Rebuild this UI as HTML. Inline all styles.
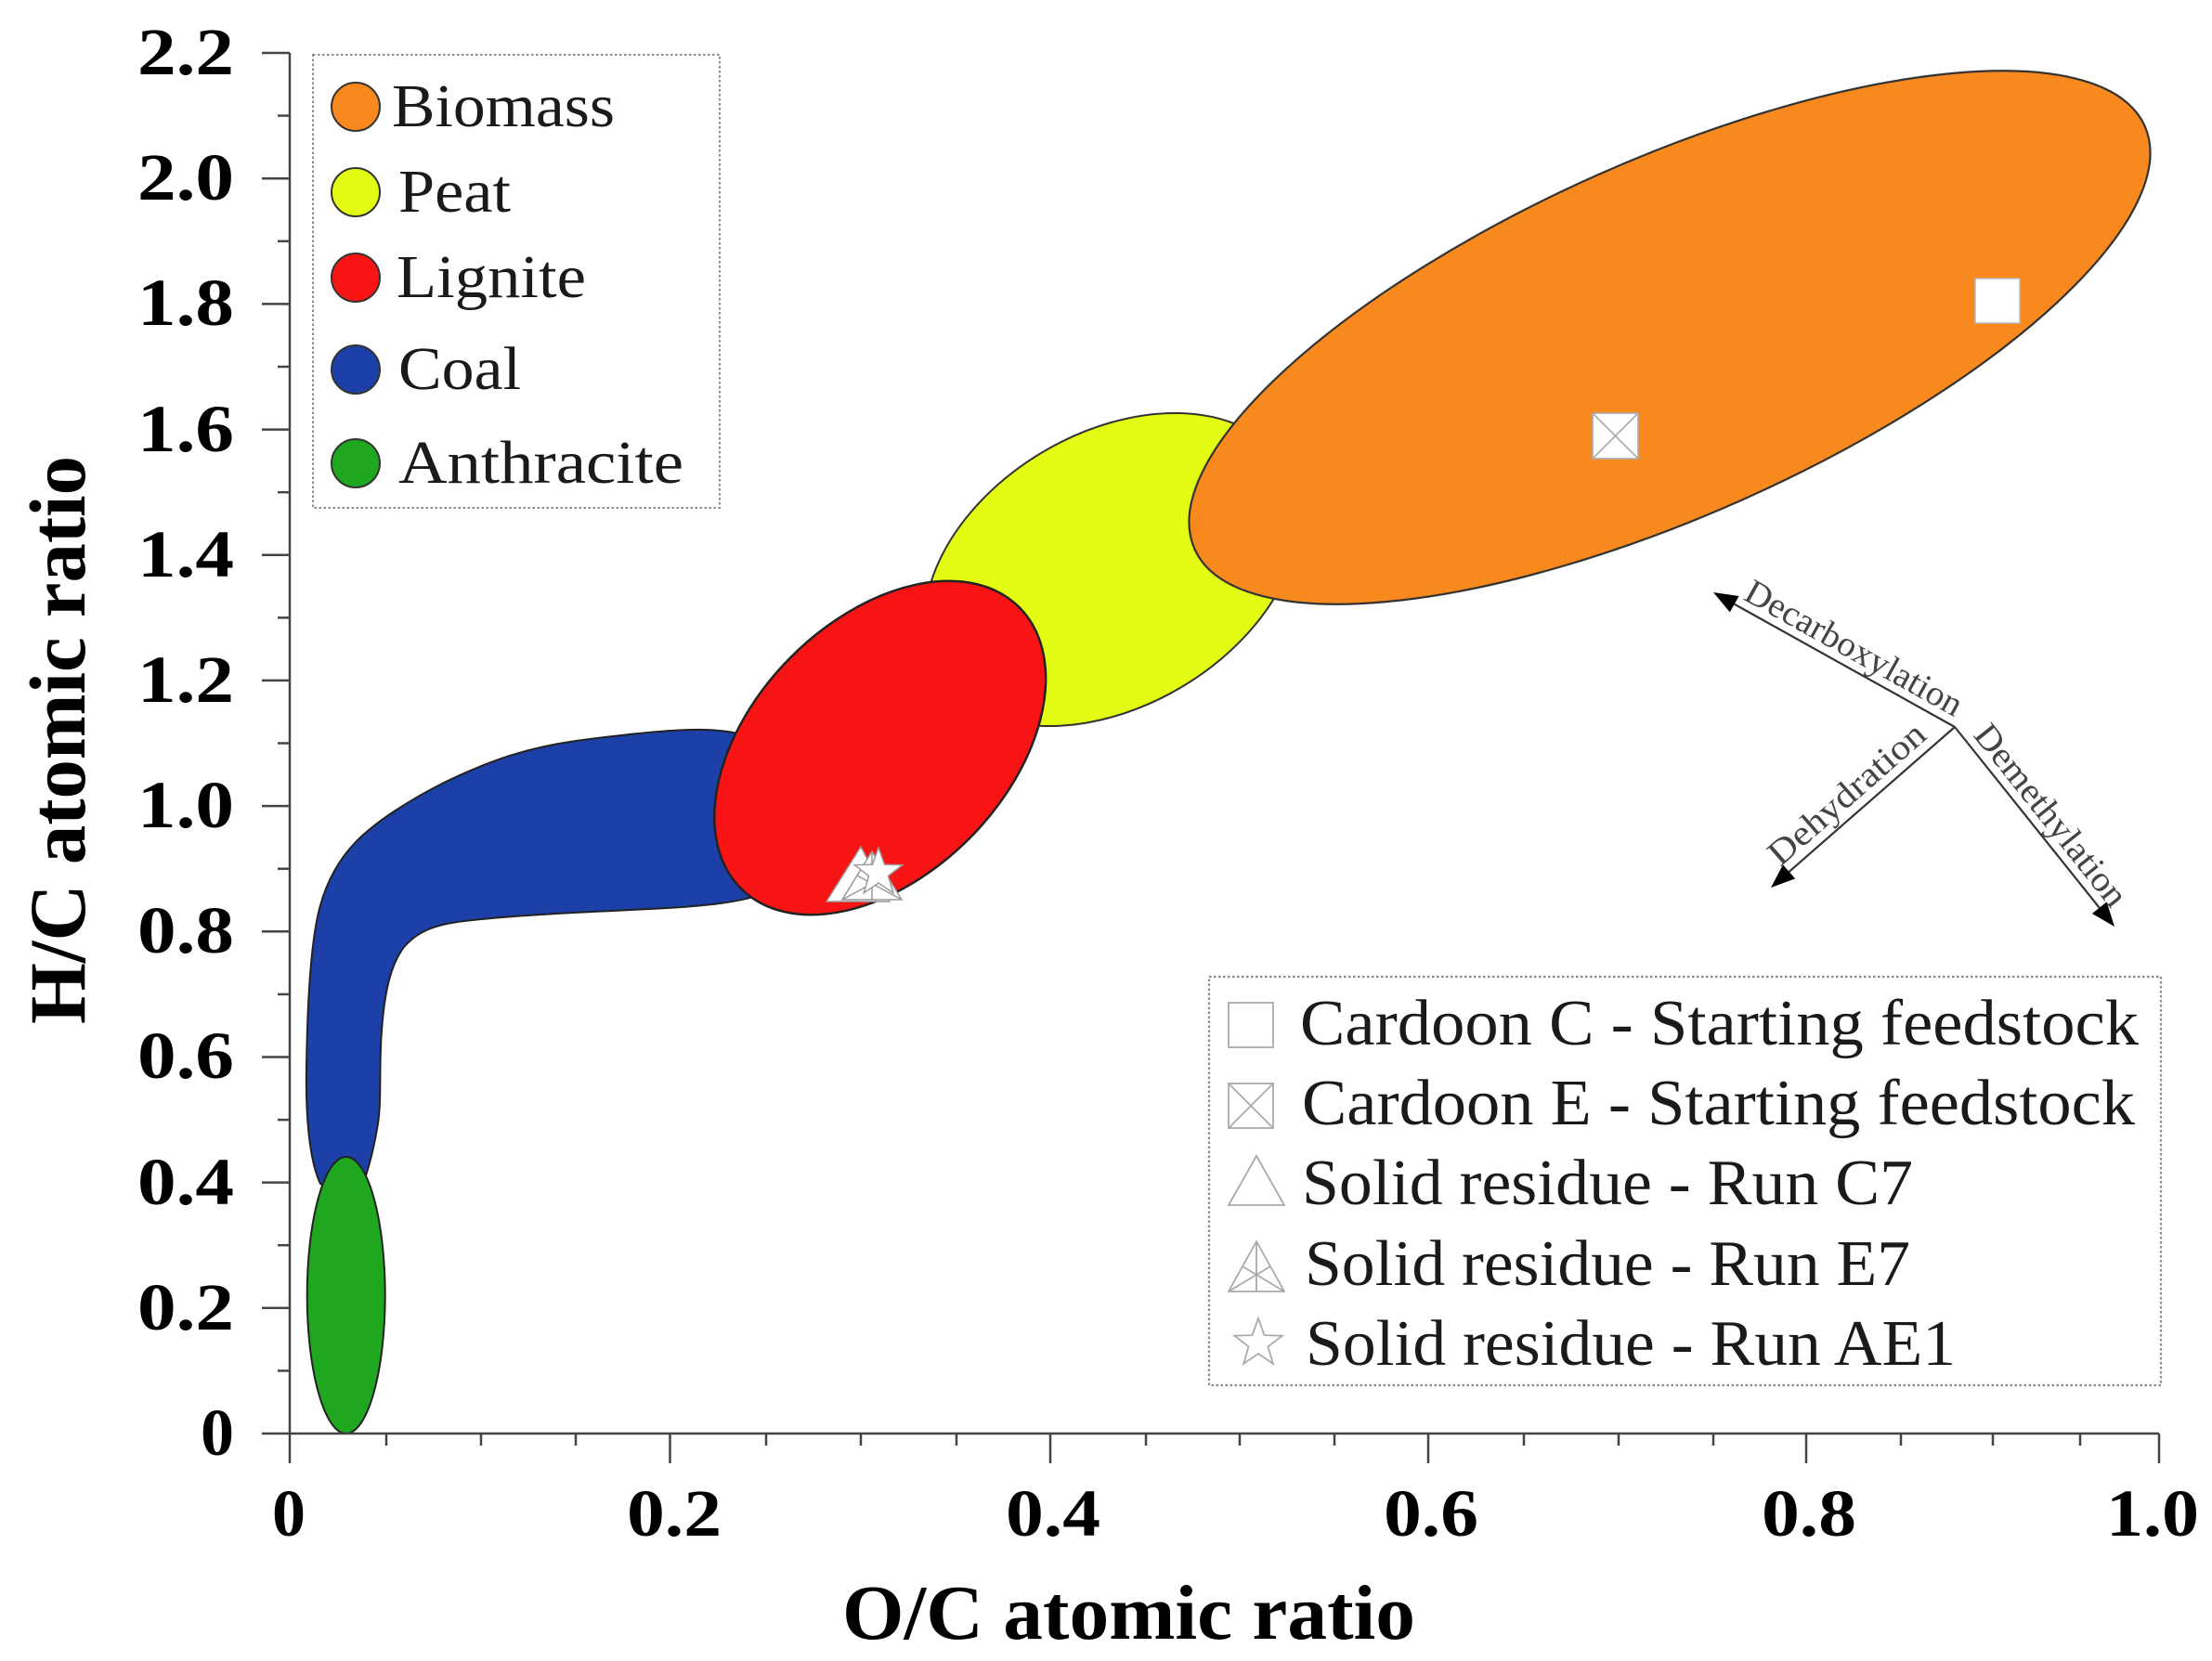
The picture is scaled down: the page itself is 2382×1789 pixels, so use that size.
<!DOCTYPE html>
<html>
<head>
<meta charset="utf-8">
<style>
html,body{margin:0;padding:0;background:#fff;overflow:hidden;}
svg{display:block;}
</style>
</head>
<body>
<svg xmlns="http://www.w3.org/2000/svg" width="2382" height="1789" viewBox="0 0 2382 1789">
<rect x="0" y="0" width="2382" height="1789" fill="#ffffff"/>

<!-- Coal (blue) -->
<path d="M 345,1275 C 333,1250 329,1200 330,1150 C 331,1080 335,1010 345,975 C 352,950 365,925 385,905 C 405,885 440,862 480,842 C 530,818 570,805 620,798 C 680,790 730,785 760,786 C 790,787 815,793 830,805 L 830,960 C 800,972 760,976 700,979 C 640,982 560,985 500,992 C 465,996 448,1005 435,1020 C 420,1040 414,1070 411,1110 C 408,1150 411,1185 407,1210 C 403,1235 398,1255 392,1272 C 375,1285 360,1285 345,1275 Z" fill="#1c40a8" stroke="#222" stroke-width="2"/>

<!-- Anthracite (green) -->
<ellipse cx="372.7" cy="1395" rx="42" ry="149" fill="#1fa81f" stroke="#222" stroke-width="2"/>

<!-- Peat (yellow) -->
<ellipse cx="1197.5" cy="613.5" rx="218" ry="147" transform="rotate(-30.8 1197.5 613.5)" fill="#e3fc14" stroke="#333" stroke-width="2"/>

<!-- Biomass (orange) -->
<ellipse cx="1798" cy="363.5" rx="560" ry="191.5" transform="rotate(-24 1798 363.5)" fill="#f8891e" stroke="#333" stroke-width="2.2"/>

<!-- Lignite (red) -->
<ellipse cx="947.7" cy="805.5" rx="213" ry="137" transform="rotate(-45.5 947.7 805.5)" fill="#f81414" stroke="#222" stroke-width="2.5"/>

<!-- Data markers -->
<rect x="2127" y="300" width="48" height="48" fill="#ffffff" stroke="#bbbbbb" stroke-width="1.5"/>
<g stroke="#aaaaaa" stroke-width="1.6" fill="#ffffff">
  <rect x="1715" y="445" width="49" height="49"/>
  <line x1="1715" y1="445" x2="1764" y2="494"/>
  <line x1="1764" y1="445" x2="1715" y2="494"/>
</g>
<g stroke="#9a9a9a" stroke-width="1.5" fill="#ffffff">
  <polygon points="927,912 890,971 958,971"/>
  <polygon points="939,917 907,969 971,969"/>
  <line x1="939" y1="917" x2="939" y2="969"/>
  <line x1="907" y1="969" x2="955" y2="943"/>
  <line x1="971" y1="969" x2="923" y2="943"/>
  <polygon transform="translate(946,940)" points="0,-27 6.47,-8.9 25.68,-8.34 10.46,3.4 15.88,21.84 0,11 -15.88,21.84 -10.46,3.4 -25.68,-8.34 -6.47,-8.9"/>
</g>

<!-- Axes -->
<g stroke="#444" stroke-width="2.5" fill="none">
  <line x1="312" y1="57" x2="312" y2="1576"/>
  <line x1="282" y1="1544" x2="2325" y2="1544"/>
  <!-- y major ticks -->
  <line x1="282" y1="1408.8" x2="312" y2="1408.8"/>
  <line x1="282" y1="1273.6" x2="312" y2="1273.6"/>
  <line x1="282" y1="1138.5" x2="312" y2="1138.5"/>
  <line x1="282" y1="1003.3" x2="312" y2="1003.3"/>
  <line x1="282" y1="868.1" x2="312" y2="868.1"/>
  <line x1="282" y1="732.9" x2="312" y2="732.9"/>
  <line x1="282" y1="597.7" x2="312" y2="597.7"/>
  <line x1="282" y1="462.6" x2="312" y2="462.6"/>
  <line x1="282" y1="327.4" x2="312" y2="327.4"/>
  <line x1="282" y1="192.2" x2="312" y2="192.2"/>
  <line x1="282" y1="57" x2="312" y2="57"/>
  <!-- y minor ticks -->
  <line x1="299" y1="1476.4" x2="312" y2="1476.4"/>
  <line x1="299" y1="1341.2" x2="312" y2="1341.2"/>
  <line x1="299" y1="1206.1" x2="312" y2="1206.1"/>
  <line x1="299" y1="1070.9" x2="312" y2="1070.9"/>
  <line x1="299" y1="935.7" x2="312" y2="935.7"/>
  <line x1="299" y1="800.5" x2="312" y2="800.5"/>
  <line x1="299" y1="665.3" x2="312" y2="665.3"/>
  <line x1="299" y1="530.2" x2="312" y2="530.2"/>
  <line x1="299" y1="395" x2="312" y2="395"/>
  <line x1="299" y1="259.8" x2="312" y2="259.8"/>
  <line x1="299" y1="124.6" x2="312" y2="124.6"/>
  <!-- x major ticks -->
  <line x1="721.5" y1="1544" x2="721.5" y2="1576"/>
  <line x1="1131" y1="1544" x2="1131" y2="1576"/>
  <line x1="1538" y1="1544" x2="1538" y2="1576"/>
  <line x1="1945" y1="1544" x2="1945" y2="1576"/>
  <line x1="2325" y1="1544" x2="2325" y2="1576"/>
  <!-- x minor ticks -->
  <line x1="416" y1="1544" x2="416" y2="1557"/>
  <line x1="518" y1="1544" x2="518" y2="1557"/>
  <line x1="620" y1="1544" x2="620" y2="1557"/>
  <line x1="825" y1="1544" x2="825" y2="1557"/>
  <line x1="927" y1="1544" x2="927" y2="1557"/>
  <line x1="1030" y1="1544" x2="1030" y2="1557"/>
  <line x1="1234" y1="1544" x2="1234" y2="1557"/>
  <line x1="1335" y1="1544" x2="1335" y2="1557"/>
  <line x1="1437" y1="1544" x2="1437" y2="1557"/>
  <line x1="1641" y1="1544" x2="1641" y2="1557"/>
  <line x1="1743" y1="1544" x2="1743" y2="1557"/>
  <line x1="1845" y1="1544" x2="1845" y2="1557"/>
  <line x1="2047" y1="1544" x2="2047" y2="1557"/>
  <line x1="2146" y1="1544" x2="2146" y2="1557"/>
  <line x1="2240" y1="1544" x2="2240" y2="1557"/>
</g>

<!-- Y tick labels -->
<g font-family="'Liberation Serif', serif" font-weight="bold" font-size="72" fill="#000" text-anchor="end">
  <text x="252" y="1567">0</text>
  <text x="252" y="1432" textLength="104" lengthAdjust="spacingAndGlyphs">0.2</text>
  <text x="252" y="1297" textLength="104" lengthAdjust="spacingAndGlyphs">0.4</text>
  <text x="252" y="1161" textLength="104" lengthAdjust="spacingAndGlyphs">0.6</text>
  <text x="252" y="1026" textLength="104" lengthAdjust="spacingAndGlyphs">0.8</text>
  <text x="252" y="891" textLength="104" lengthAdjust="spacingAndGlyphs">1.0</text>
  <text x="252" y="756" textLength="104" lengthAdjust="spacingAndGlyphs">1.2</text>
  <text x="252" y="621" textLength="104" lengthAdjust="spacingAndGlyphs">1.4</text>
  <text x="252" y="486" textLength="104" lengthAdjust="spacingAndGlyphs">1.6</text>
  <text x="252" y="350" textLength="104" lengthAdjust="spacingAndGlyphs">1.8</text>
  <text x="252" y="215" textLength="104" lengthAdjust="spacingAndGlyphs">2.0</text>
  <text x="252" y="80" textLength="104" lengthAdjust="spacingAndGlyphs">2.2</text>
</g>

<!-- X tick labels -->
<g font-family="'Liberation Serif', serif" font-weight="bold" font-size="72" fill="#000" text-anchor="middle">
  <text x="311" y="1654">0</text>
  <text x="726" y="1654" textLength="102" lengthAdjust="spacingAndGlyphs">0.2</text>
  <text x="1134" y="1654" textLength="102" lengthAdjust="spacingAndGlyphs">0.4</text>
  <text x="1541" y="1654" textLength="102" lengthAdjust="spacingAndGlyphs">0.6</text>
  <text x="1948" y="1654" textLength="102" lengthAdjust="spacingAndGlyphs">0.8</text>
  <text x="2318" y="1654" textLength="100" lengthAdjust="spacingAndGlyphs">1.0</text>
</g>

<!-- Axis titles -->
<text x="907" y="1765" font-family="'Liberation Serif', serif" font-weight="bold" font-size="84" fill="#000" textLength="617" lengthAdjust="spacingAndGlyphs">O/C atomic ratio</text>
<text transform="translate(91,797) rotate(-90)" x="0" y="0" text-anchor="middle" font-family="'Liberation Serif', serif" font-weight="bold" font-size="86" fill="#000" textLength="612" lengthAdjust="spacingAndGlyphs">H/C atomic ratio</text>

<!-- Legend 1 -->
<rect x="337" y="59" width="438" height="488" fill="none" stroke="#8a8a8a" stroke-width="2" stroke-dasharray="2.5 2.5"/>
<g stroke="#333" stroke-width="2">
  <circle cx="383" cy="115" r="26" fill="#f8891e"/>
  <circle cx="383" cy="207" r="26" fill="#e3fc14"/>
  <circle cx="383" cy="299" r="26" fill="#f81414"/>
  <circle cx="383" cy="398" r="26" fill="#1c40a8"/>
  <circle cx="383" cy="499" r="26" fill="#1fa81f"/>
</g>
<g font-family="'Liberation Serif', serif" font-size="66" fill="#1a1a1a">
  <text x="422" y="136" textLength="240" lengthAdjust="spacingAndGlyphs">Biomass</text>
  <text x="429" y="228" textLength="121" lengthAdjust="spacingAndGlyphs">Peat</text>
  <text x="427" y="320" textLength="204" lengthAdjust="spacingAndGlyphs">Lignite</text>
  <text x="429" y="419" textLength="132" lengthAdjust="spacingAndGlyphs">Coal</text>
  <text x="429" y="520" textLength="307" lengthAdjust="spacingAndGlyphs">Anthracite</text>
</g>

<!-- Reaction arrows -->
<g stroke="#333" stroke-width="2.2" fill="none">
  <line x1="2105" y1="783" x2="1867.7" y2="650.7"/>
  <line x1="2105" y1="783" x2="1926.6" y2="938.9"/>
  <line x1="2105" y1="783" x2="2260.7" y2="977.7"/>
</g>
<g fill="#000">
  <polygon points="1845,638 1872.6,642 1862.8,659.4"/>
  <polygon points="1907,956 1933.2,946.4 1920,931.4"/>
  <polygon points="2277,998 2268.6,971.4 2252.9,984"/>
</g>
<g font-family="'Liberation Serif', serif" font-size="38" fill="#444">
  <text transform="translate(1876,645) rotate(29.1)" x="0" y="0" textLength="262" lengthAdjust="spacingAndGlyphs">Decarboxylation</text>
  <text transform="translate(2124,792) rotate(51.4)" x="0" y="0" textLength="240" lengthAdjust="spacingAndGlyphs">Demethylation</text>
  <text transform="translate(1917,934) rotate(-41.2)" x="0" y="0" textLength="212" lengthAdjust="spacingAndGlyphs">Dehydration</text>
</g>

<!-- Legend 2 -->
<rect x="1302" y="1052" width="1025" height="440" fill="none" stroke="#8a8a8a" stroke-width="2.2" stroke-dasharray="2.5 2.5"/>
<g stroke="#aaaaaa" stroke-width="1.8" fill="#ffffff">
  <rect x="1323" y="1080" width="48" height="48"/>
  <rect x="1323" y="1167" width="48" height="48"/>
  <line x1="1323" y1="1167" x2="1371" y2="1215"/>
  <line x1="1371" y1="1167" x2="1323" y2="1215"/>
  <polygon points="1353,1245 1323,1298 1383,1298"/>
  <polygon points="1353,1337 1323,1391 1383,1391"/>
  <line x1="1353" y1="1337" x2="1353" y2="1391"/>
  <line x1="1323" y1="1391" x2="1368" y2="1364"/>
  <line x1="1383" y1="1391" x2="1338" y2="1364"/>
  <polygon transform="translate(1355,1447)" points="0,-27 6.47,-8.9 25.68,-8.34 10.46,3.4 15.88,21.84 0,11 -15.88,21.84 -10.46,3.4 -25.68,-8.34 -6.47,-8.9"/>
</g>
<g font-family="'Liberation Serif', serif" font-size="70" fill="#1a1a1a">
  <text x="1400" y="1125" textLength="903" lengthAdjust="spacingAndGlyphs">Cardoon C - Starting feedstock</text>
  <text x="1402" y="1211" textLength="897" lengthAdjust="spacingAndGlyphs">Cardoon E - Starting feedstock</text>
  <text x="1402" y="1297" textLength="658" lengthAdjust="spacingAndGlyphs">Solid residue - Run C7</text>
  <text x="1405" y="1384" textLength="652" lengthAdjust="spacingAndGlyphs">Solid residue - Run E7</text>
  <text x="1406" y="1470" textLength="700" lengthAdjust="spacingAndGlyphs">Solid residue - Run AE1</text>
</g>
</svg>
</body>
</html>
